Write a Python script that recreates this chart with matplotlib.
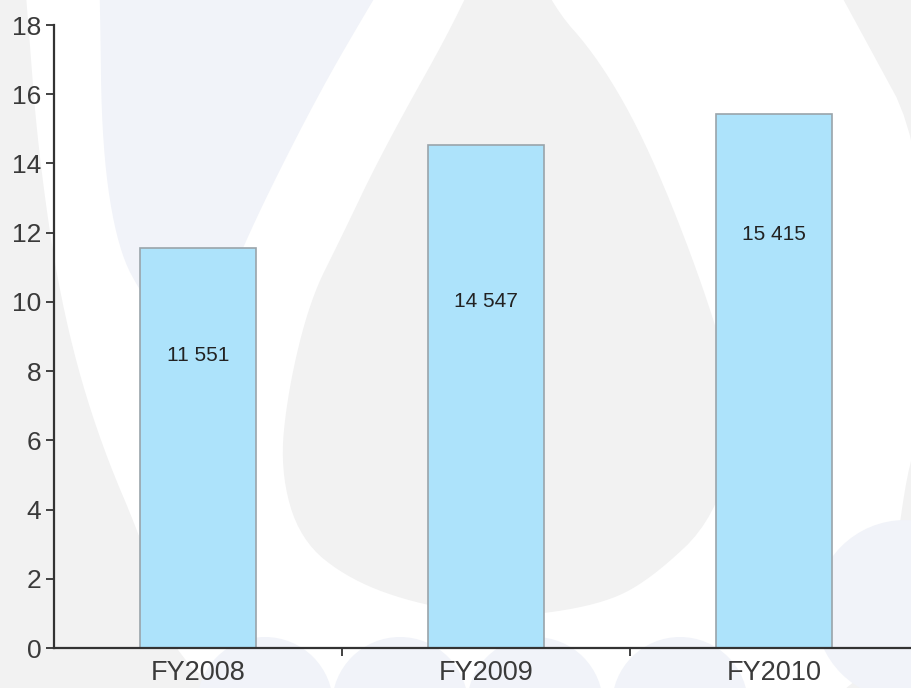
import numpy as np
import matplotlib
matplotlib.use("Agg")
import matplotlib.pyplot as plt
from matplotlib.patches import Polygon, Circle

plt.rcParams['font.family'] = ['Liberation Sans', 'DejaVu Sans']

# data (thousands)
categories = ['FY2008', 'FY2009', 'FY2010']
values = [11.551, 14.547, 15.415]
labels = ['11 551', '14 547', '15 415']
label_y = [8.45, 10.0, 11.96]
yticks = [0, 2, 4, 6, 8, 10, 12, 14, 16, 18]

W, H = 912, 688


def smooth(pts, n=4, closed=True):
    # chaikin corner cutting for a soft watermark outline
    p = np.array(pts, dtype=float)
    for _ in range(n):
        q = np.roll(p, -1, axis=0) if closed else p[1:]
        a = p if closed else p[:-1]
        new = np.empty((2 * len(a), 2))
        new[0::2] = 0.75 * a + 0.25 * q
        new[1::2] = 0.25 * a + 0.75 * q
        p = new
    return p


fig = plt.figure(figsize=(W / 100, H / 100), dpi=100)
fig.patch.set_facecolor('#f2f2f2')

# background watermark (pixel coords)
bg = fig.add_axes([0, 0, 1, 1], zorder=0)
bg.set_xlim(0, W)
bg.set_ylim(H, 0)
bg.axis('off')

outer = [(20, -80), (800, -80), (860, 30), (925, 150), (925, 430), (905, 470),
         (880, 700), (700, 720), (200, 720), (150, 560), (95, 430), (60, 300),
         (38, 150), (28, 20)]
bg.add_patch(Polygon(smooth(outer, 3), closed=True, fc='white', ec='none'))

lav = '#f1f3f9'
top_left = [(98, -60), (410, -60), (373, 0), (315, 100), (245, 240), (215, 320),
            (180, 345), (145, 300), (118, 250), (102, 150), (100, 0)]
bg.add_patch(Polygon(smooth(top_left, 3), closed=True, fc=lav, ec='none'))

inner = [(500, -90), (515, -90), (547, 0), (600, 60), (650, 150), (705, 290),
         (740, 410), (717, 517), (650, 580), (600, 605), (510, 618), (420, 605),
         (350, 580), (300, 540), (280, 470), (288, 390), (310, 300), (340, 240),
         (383, 150), (467, 0)]
bg.add_patch(Polygon(smooth(inner, 3), closed=True, fc='#f2f2f2', ec='none'))

for cx in [265, 400, 535, 680]:
    bg.add_patch(Circle((cx, 705), 68, fc=lav, ec='none'))
bg.add_patch(Circle((905, 610), 90, fc=lav, ec='none'))

# main chart
ax = fig.add_axes([54 / W, 40 / H, 864 / W, 623 / H], zorder=1)
ax.set_facecolor('none')
x = np.arange(len(categories))
ax.bar(x, values, width=0.4, color='#ade3fb', edgecolor='#9aa4aa', linewidth=1.2)
for xi, ly, lab in zip(x, label_y, labels):
    ax.text(xi, ly, lab, ha='center', va='center', fontsize=15, color='#222222')

ax.set_xlim(-0.5, 2.5)
ax.set_ylim(0, 18)
ax.set_yticks(yticks)
ax.set_xticks(x)
ax.set_xticklabels(categories)
ax.set_xticks([0.5, 1.5], minor=True)

for s in ['top', 'right']:
    ax.spines[s].set_visible(False)
for s in ['left', 'bottom']:
    ax.spines[s].set_color('#333333')
    ax.spines[s].set_linewidth(1.6)

ax.tick_params(axis='y', length=6, width=1.3, color='#333333', pad=3,
               labelsize=19, labelcolor='#3a3a3a')
ax.tick_params(axis='x', which='major', length=0, pad=9,
               labelsize=19.5, labelcolor='#3a3a3a')
ax.tick_params(axis='x', which='minor', length=6, width=1.3, color='#333333')

fig.savefig('out.png', dpi=100, facecolor=fig.get_facecolor())
